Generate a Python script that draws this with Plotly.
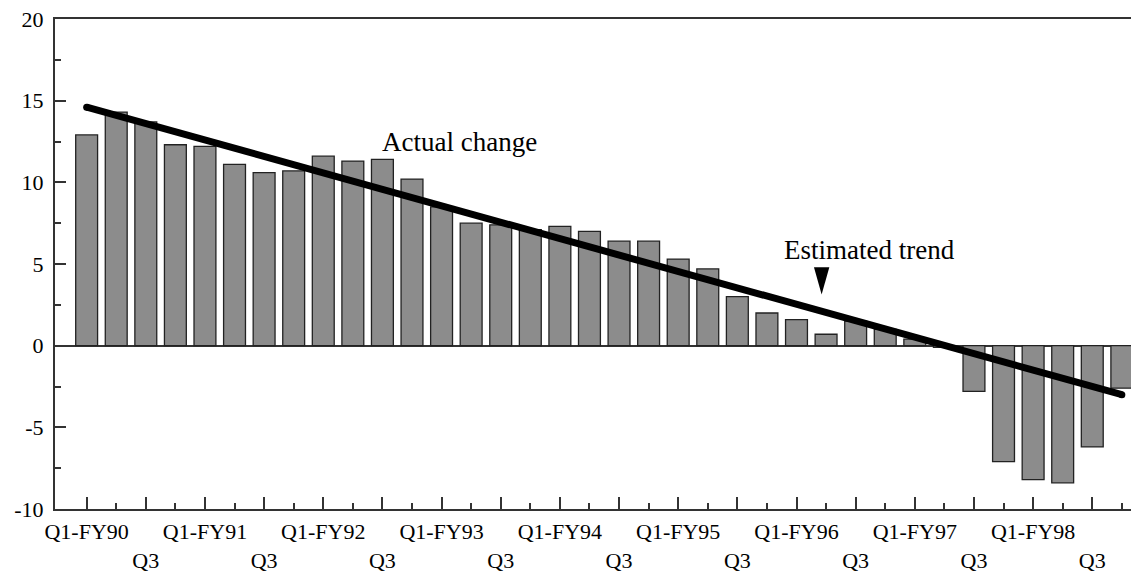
import plotly.graph_objects as go

fiscal_years = ["FY90", "FY91", "FY92", "FY93", "FY94", "FY95", "FY96", "FY97", "FY98"]
quarters = ["Q1", "Q2", "Q3", "Q4"]
actual_change = [
    12.9, 14.3, 13.7, 12.3,
    12.2, 11.1, 10.6, 10.7,
    11.6, 11.3, 11.4, 10.2,
    8.5, 7.5, 7.4, 7.1,
    7.3, 7.0, 6.4, 6.4,
    5.3, 4.7, 3.0, 2.0,
    1.6, 0.7, 1.5, 1.0,
    0.4, -0.1, -2.8, -7.1,
    -8.2, -8.4, -6.2, -2.6,
]
trend_start = 14.6
trend_end = -3.0
y_ticks = [-10, -5, 0, 5, 10, 15, 20]

labels = [f"{q}-{fy}" for fy in fiscal_years for q in quarters]
idx = list(range(len(labels)))

tickvals, ticktext, minorvals = [], [], []
for i, lab in enumerate(labels):
    q = lab.split("-")[0]
    if q == "Q1":
        tickvals.append(i); ticktext.append(lab)
    elif q == "Q3":
        tickvals.append(i); ticktext.append("<br>Q3")
    else:
        minorvals.append(i)

FONT = "Liberation Serif, Times New Roman, serif"
AX = "#333333"

fig = go.Figure()
fig.add_trace(go.Bar(
    x=idx, y=actual_change,
    marker=dict(color="#8c8c8c", line=dict(color="#222222", width=1.3)),
    hoverinfo="skip",
))
fig.add_trace(go.Scatter(
    x=[idx[0], idx[-1]], y=[trend_start, trend_end],
    mode="lines+markers",
    line=dict(color="black", width=7),
    marker=dict(color="black", size=7),
    hoverinfo="skip",
))

# arrow head for "Estimated trend"
ax_x = 24.85
fig.add_shape(type="path", xref="x", yref="y",
              path=f"M {ax_x-0.26} 4.8 L {ax_x+0.26} 4.8 L {ax_x} 3.13 Z",
              fillcolor="black", line=dict(color="black", width=0))

fig.add_annotation(x=12.59, y=12.5, xref="x", yref="y", text="Actual change",
                   showarrow=False, font=dict(family=FONT, size=27, color="black"))
fig.add_annotation(x=26.48, y=5.83, xref="x", yref="y", text="Estimated trend",
                   showarrow=False, font=dict(family=FONT, size=27, color="black"))

# page body has an 8px margin, so the figure is offset to compensate
fig.update_layout(
    width=1131, height=571,
    margin=dict(l=47, r=0, t=11, b=70),
    paper_bgcolor="white", plot_bgcolor="white",
    showlegend=False,
    bargap=0.26,
    font=dict(family=FONT, size=22, color="black"),
)
fig.update_xaxes(
    range=[-1.07, 35.58], automargin=False,
    tickmode="array", tickvals=tickvals, ticktext=ticktext,
    ticks="inside", ticklen=12, tickwidth=1.5, tickcolor=AX,
    ticklabelstandoff=2, ticklabeloverflow="allow",
    minor=dict(tickmode="array", tickvals=minorvals, ticks="inside", ticklen=6,
               tickwidth=1.5, tickcolor=AX, showgrid=False),
    showline=True, linecolor=AX, linewidth=2, mirror=True,
    showgrid=False, zeroline=False,
    tickfont=dict(family=FONT, size=22, color="black"),
)
fig.update_yaxes(
    range=[-10, 20], automargin=False,
    tickmode="array", tickvals=y_ticks, ticktext=[str(v) for v in y_ticks],
    ticks="inside", ticklen=11, tickwidth=1.5, tickcolor=AX,
    ticklabelstandoff=5, ticklabeloverflow="allow",
    minor=dict(tickmode="linear", tick0=2.5, dtick=5, ticks="inside", ticklen=6,
               tickwidth=1.5, tickcolor=AX, showgrid=False),
    showline=True, linecolor=AX, linewidth=2,
    showgrid=False,
    zeroline=True, zerolinecolor=AX, zerolinewidth=1.5,
    tickfont=dict(family=FONT, size=22, color="black"),
)

fig.write_html("out.html")
